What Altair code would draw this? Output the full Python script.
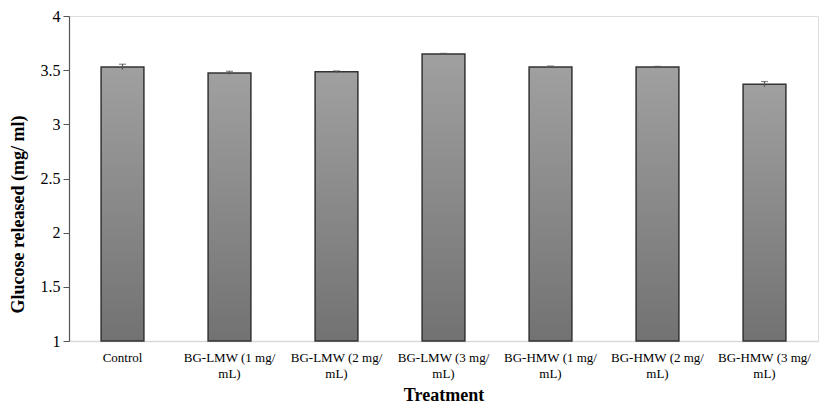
import altair as alt
import pandas as pd

categories = [
    "Control",
    "BG-LMW (1 mg/\nmL)",
    "BG-LMW (2 mg/\nmL)",
    "BG-LMW (3 mg/\nmL)",
    "BG-HMW (1 mg/\nmL)",
    "BG-HMW (2 mg/\nmL)",
    "BG-HMW (3 mg/\nmL)",
]
values = [3.53, 3.475, 3.485, 3.65, 3.53, 3.53, 3.37]
errors = [0.025, 0.015, 0.008, 0.005, 0.008, 0.005, 0.025]

df = pd.DataFrame({"Treatment": categories, "value": values, "err": errors})
df["hi"] = df["value"] + df["err"]
df["lo"] = df["value"] - df["err"]

FONT = "Liberation Serif"

x_enc = alt.X(
    "Treatment:N",
    sort=categories,
    scale=alt.Scale(paddingInner=0.6, paddingOuter=0.3),
    axis=alt.Axis(
        title="Treatment",
        labelAngle=0,
        labelExpr="split(datum.label, '\\n')",
        labelFont=FONT,
        labelFontSize=13,
        labelColor="#000000",
        labelPadding=10,
        labelLineHeight=16,
        ticks=False,
        domainColor="#d9d9d9",
        domainWidth=1.5,
        titleFont=FONT,
        titleFontSize=18,
        titleFontWeight="bold",
        titleColor="#000000",
        titleY=54,
        titleBaseline="middle",
    ),
)

y_scale = alt.Scale(domain=[1, 4], nice=False, zero=False)

bars = alt.Chart(df).mark_bar(
    color=alt.Gradient(
        gradient="linear",
        stops=[
            alt.GradientStop(color="#a0a0a0", offset=0),
            alt.GradientStop(color="#727272", offset=1),
        ],
        x1=0, x2=0, y1=0, y2=1,
    ),
    stroke="#333333",
    strokeWidth=1.5,
).encode(
    x=x_enc,
    y=alt.Y(
        "value:Q",
        scale=y_scale,
        axis=alt.Axis(
            title="Glucose released (mg/ ml)",
            values=[1, 1.5, 2, 2.5, 3, 3.5, 4],
            format="~g",
            grid=False,
            labelFont=FONT,
            labelFontSize=16,
            labelColor="#000000",
            labelPadding=3,
            tickSize=6,
            tickColor="#555555",
            domainColor="#555555",
            domainWidth=1.2,
            titleFont=FONT,
            titleFontSize=18,
            titleFontWeight="bold",
            titleColor="#000000",
            titleX=-51,
            titleY=198,
            titleAngle=-90,
            titleAlign="center",
            titleBaseline="middle",
        ),
    ),
    y2=alt.Y2(datum=1),
)

rules = alt.Chart(df).mark_rule(color="#555555", strokeWidth=1.2).encode(
    x=alt.X("Treatment:N", sort=categories),
    y=alt.Y("lo:Q", scale=y_scale),
    y2="hi:Q",
)

caps = alt.Chart(df).mark_tick(color="#555555", thickness=1.2, size=7).encode(
    x=alt.X("Treatment:N", sort=categories),
    y=alt.Y("hi:Q", scale=y_scale),
)

chart = (
    alt.layer(bars, rules, caps)
    .properties(
        width=749,
        height=325,
        autosize=alt.AutoSizeParams(type="none"),
        padding={"left": 61, "top": 8, "right": 3, "bottom": 64},
    )
    .configure_view(strokeWidth=0, stroke="transparent")
    .configure(background="#ffffff")
)

chart.save("out.html", embed_options={"renderer": "svg", "actions": False})
